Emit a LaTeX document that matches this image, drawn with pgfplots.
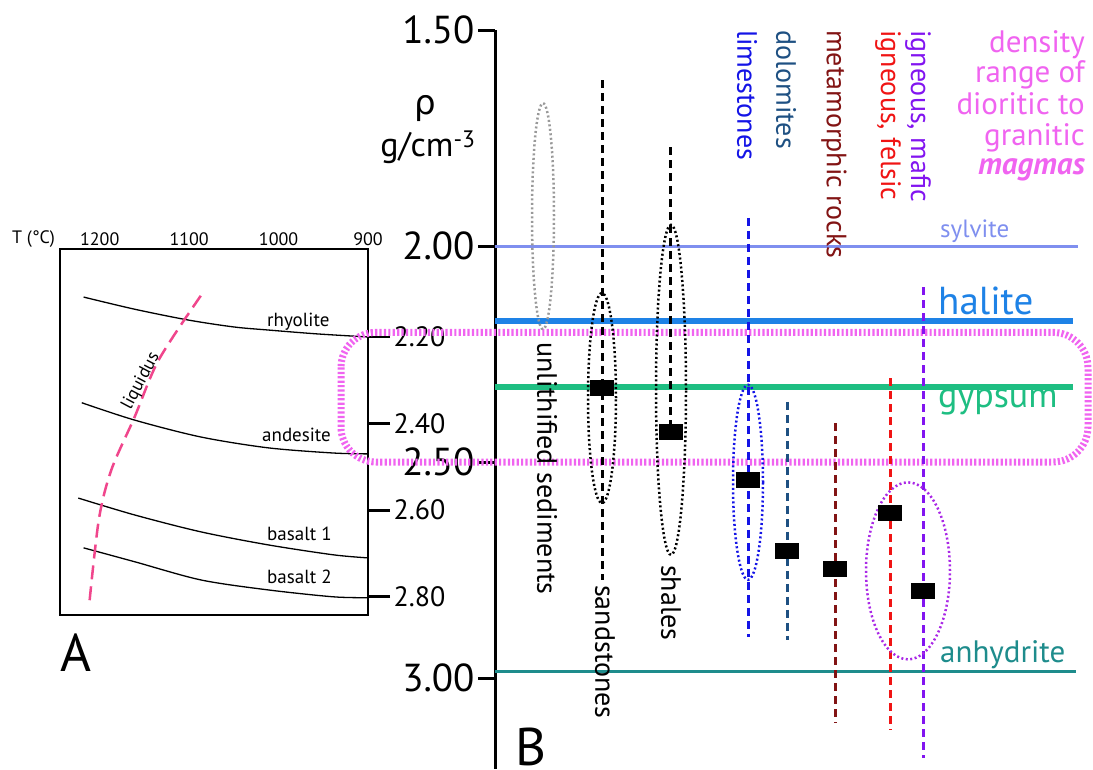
\documentclass[border=0pt]{standalone}
\usepackage{pgfplots}
\pgfplotsset{compat=1.18}
\usepackage{fontspec}
\setmainfont{PT Sans}
\newfontfamily\greekfont{DejaVu Sans}
\newcommand\fs[1]{\fontsize{#1}{#1}\selectfont}
\definecolor{sylv}{HTML}{7F8FEF}
\definecolor{hali}{HTML}{1E82E6}
\definecolor{gyps}{HTML}{1EBE82}
\definecolor{anhy}{HTML}{1E8C8C}
\definecolor{magma}{HTML}{F064F0}
\definecolor{liq}{HTML}{F0468C}
\definecolor{lime}{HTML}{1414E6}
\definecolor{dolo}{HTML}{1E5082}
\definecolor{meta}{HTML}{821414}
\definecolor{fels}{HTML}{F01414}
\definecolor{mafi}{HTML}{8214F0}
\definecolor{purp}{HTML}{AA28E6}
\begin{document}
\begin{tikzpicture}[x=1pt,y=1pt]
% ---------------- Panel A ----------------
\begin{axis}[
  at={(60pt,154pt)}, anchor=south west, scale only axis, width=308pt, height=366pt,
  x coord trafo/.code={\pgfmathparse{-(#1)}},
  x coord inv trafo/.code={\pgfmathparse{-(#1)}},
  y coord trafo/.code={\pgfmathparse{-(#1)}},
  y coord inv trafo/.code={\pgfmathparse{-(#1)}},
  xmin=1244.4, xmax=900,
  ymin=2.842, ymax=1.997,
  axis line style={line width=2.7pt},
  xtick={900,1000,1100,1200}, xticklabels={900,1000,1100,1200},
  xtick pos=right, xticklabel pos=right, xtick style={draw=none},
  xticklabel style={font=\fs{18}, yshift=-22pt},
  ytick={2.2,2.4,2.6,2.8}, yticklabels={2.20,2.40,2.60,2.80},
  ytick pos=right, yticklabel pos=right, tick align=outside,
  major tick length=22pt, ytick style={line width=2.7pt, black},
  yticklabel style={font=\fs{28}},
  clip=false,
]
\addplot[black, line width=1.3pt, smooth] coordinates {(1218,2.108) (1161,2.136) (1101,2.161) (1050,2.177) (1012,2.184) (957,2.193) (901,2.200)};
\addplot[black, line width=1.3pt, smooth] coordinates {(1220,2.352) (1161,2.392) (1087,2.431) (1012,2.456) (939,2.468) (901,2.470)};
\addplot[black, line width=1.3pt, smooth] coordinates {(1224,2.572) (1161,2.611) (1087,2.650) (1012,2.680) (939,2.703) (901,2.710)};
\addplot[black, line width=1.3pt, smooth] coordinates {(1218,2.687) (1161,2.719) (1087,2.761) (1012,2.784) (939,2.800) (901,2.802)};
\addplot[liq, line width=2.5pt, smooth, dash pattern=on 14pt off 7pt] coordinates {(1087,2.105) (1134,2.253) (1161,2.385) (1187,2.507) (1201,2.622) (1212,2.823)};
\end{axis}
% ---------------- Panel B ----------------
\begin{axis}[
  at={(495pt,0pt)}, anchor=south west, scale only axis, width=598pt, height=739pt,
  xmin=495, xmax=1093, ymin=1.5, ymax=3.21065, y dir=reverse,
  axis y line*=left, axis x line=none, xtick=\empty,
  axis line style={line width=3pt},
  ytick={1.5,2,2.5,3}, yticklabels={1.50,2.00,2.50,3.00},
  tick align=outside, major tick length=17pt, ytick style={line width=3pt, black},
  yticklabel style={font=\fs{39}},
  clip=false,
]
% magma density range 2.20-2.50
\draw[magma, line width=7pt, dash pattern=on 2.2pt off 2.2pt, rounded corners=35pt]
  (axis cs:341,2.2) rectangle (axis cs:1088,2.5);
% mineral densities
\addplot[sylv, line width=3pt] coordinates {(495,2.00) (1078,2.00)};
\addplot[hali, line width=6pt] coordinates {(495,2.174) (1073,2.174)};
\addplot[gyps, line width=6pt] coordinates {(495,2.326) (1073,2.326)};
\addplot[anhy, line width=3pt] coordinates {(495,2.986) (1076,2.986)};
% ranges
\pgfplotsset{rng/.style={line width=3pt, dash pattern=on 8pt off 5pt}}
\addplot[black, rng] coordinates {(602,1.616) (602,2.773)};
\addplot[black, rng] coordinates {(670,1.771) (670,2.449)};
\addplot[lime, rng] coordinates {(748,1.935) (748,2.905)};
\addplot[dolo, rng] coordinates {(787,2.361) (787,2.912)};
\addplot[meta, rng] coordinates {(835,2.410) (835,3.104)};
\addplot[fels, rng] coordinates {(890,2.306) (890,3.120)};
\addplot[mafi, rng] coordinates {(923,2.095) (923,3.185)};
% ellipses
\tikzset{dots/.style={line width=2.5pt, dash pattern=on 2pt off 2.5pt}}
\draw[black!40, dots] (axis cs:543,1.931) ellipse [x radius=11pt, y radius=113pt];
\draw[black, dots] (axis cs:602,2.352) ellipse [x radius=14pt, y radius=105pt];
\draw[black, dots] (axis cs:671,2.333) ellipse [x radius=15pt, y radius=165pt];
\draw[lime, dots] (axis cs:748,2.547) ellipse [x radius=15pt, y radius=97.5pt];
\draw[purp, dots] (axis cs:908,2.752) ellipse [x radius=42pt, y radius=88.5pt];
% mean densities
\addplot[only marks, mark=square*, mark size=7.5pt, mark options={xscale=1.5, fill=black, draw=black, line width=0pt}]
  coordinates {(602,2.329) (671,2.431) (748,2.542) (787,2.706) (835,2.748) (890,2.618) (923,2.799)};
\end{axis}
% ---------------- Texts ----------------
\node[anchor=base west, inner sep=0, font=\fs{18}] at (12,525) {T (°C)};
\node[anchor=base west, inner sep=0, font=\fs{19}] at (267,442) {rhyolite};
\node[anchor=base west, inner sep=0, font=\fs{19}] at (262,327) {andesite};
\node[anchor=base west, inner sep=0, font=\fs{19}] at (267,228) {basalt 1};
\node[anchor=base west, inner sep=0, font=\fs{19}] at (267,185) {basalt 2};
\node[rotate=62, inner sep=0, font=\fs{18}] at (141,388) {liquidus};
\node[anchor=base west, inner sep=0, font=\fs{53}] at (60,97) {A};
\node[anchor=base west, inner sep=0, font=\fs{53}] at (515,4) {B};
\node[anchor=base, inner sep=0, font=\greekfont\fs{34}] at (425,654) {ρ};
\node[anchor=base, inner sep=0, font=\fs{34}] at (428,612) {g/cm\textsuperscript{-3}};
% column labels
\tikzset{col/.style={rotate=-90, anchor=west, inner sep=0, font=\fs{28}}}
\node[col] at (547,427) {unlithified sediments};
\node[col] at (605,184) {sandstones};
\node[col] at (671,204) {shales};
\node[col, text=lime] at (747,739) {limestones};
\node[col, text=dolo] at (786,739) {dolomites};
\node[col, text=meta] at (834,739) {metamorphic rocks};
\node[col, text=fels] at (888,739) {igneous, felsic};
\node[col, text=mafi] at (918,739) {igneous, mafic};
% mineral labels
\node[anchor=base west, inner sep=0, font=\fs{25}, text=sylv] at (940,531) {sylvite};
\node[anchor=base west, inner sep=0, font=\fs{39}, text=hali] at (938,454) {halite};
\node[anchor=base west, inner sep=0, font=\fs{36}, text=gyps] at (938,361) {gypsum};
\node[anchor=base west, inner sep=0, font=\fs{31}, text=anhy] at (940,106) {anhydrite};
% magma text
\tikzset{mg/.style={anchor=base east, inner sep=0, font=\fs{31}, text=magma}}
\node[mg] at (1085,716) {density};
\node[mg] at (1085,686) {range of};
\node[mg] at (1085,654) {dioritic to};
\node[mg] at (1085,623) {granitic};
\node[mg, font=\fs{31}\bfseries\itshape] at (1085,594) {magmas};
\pgfresetboundingbox
\useasboundingbox (0,0) rectangle (1093,769);
\end{tikzpicture}
\end{document}
